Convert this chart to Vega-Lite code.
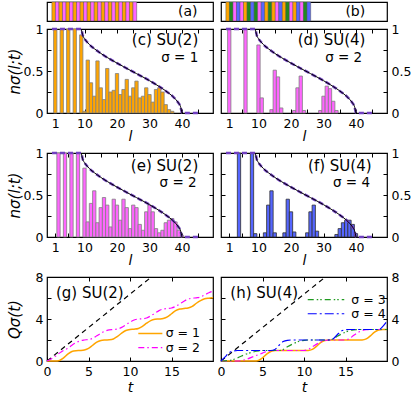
{
"$schema": "https://vega.github.io/schema/vega-lite/v6.json",
"padding": {"left": 6, "top": 1, "right": 0, "bottom": 0},
"config": {
  "font": "DejaVu Sans",
  "view": {"stroke": "black", "strokeWidth": 1.2},
  "axis": {"grid": false, "domain": false, "tickColor": "black", "tickSize": -4, "tickWidth": 1, "labelFontSize": 12.5, "labelColor": "black", "labelPadding": 8, "labelFlush": false, "labelOverlap": false, "titleFontSize": 15, "titleColor": "black", "titleFontWeight": "normal", "titleFontStyle": "italic", "titlePadding": 1},
  "axisBottom": {"minExtent": 15, "maxExtent": 15, "titlePadding": 1, "titleFontSize": 14},
  "axisTop": {"minExtent": 0, "maxExtent": 0},
  "axisLeft": {"minExtent": 24, "maxExtent": 24},
  "text": {"font": "DejaVu Sans", "fontSize": 15, "color": "black"},
  "line": {"interpolate": "monotone"}
},
"datasets": {
  "env": [{"l":9,"v":1},{"l":9.5,"v":0.92},{"l":10,"v":0.885},{"l":11,"v":0.836},{"l":12,"v":0.797},{"l":13,"v":0.766},{"l":14,"v":0.737},{"l":15,"v":0.71},{"l":16,"v":0.685},{"l":17,"v":0.661},{"l":18,"v":0.638},{"l":20,"v":0.594},{"l":22,"v":0.552},{"l":24,"v":0.51},{"l":26,"v":0.469},{"l":28,"v":0.428},{"l":30,"v":0.385},{"l":32,"v":0.339},{"l":33,"v":0.315},{"l":34,"v":0.29},{"l":35,"v":0.263},{"l":36,"v":0.234},{"l":37,"v":0.203},{"l":38,"v":0.164},{"l":39,"v":0.115},{"l":39.5,"v":0.081},{"l":40,"v":0}],
  "envp": [{"l":0,"v":1},{"l":9,"v":1},{"l":9.5,"v":0.92},{"l":10,"v":0.885},{"l":11,"v":0.836},{"l":12,"v":0.797},{"l":13,"v":0.766},{"l":14,"v":0.737},{"l":15,"v":0.71},{"l":16,"v":0.685},{"l":17,"v":0.661},{"l":18,"v":0.638},{"l":20,"v":0.594},{"l":22,"v":0.552},{"l":24,"v":0.51},{"l":26,"v":0.469},{"l":28,"v":0.428},{"l":30,"v":0.385},{"l":32,"v":0.339},{"l":33,"v":0.315},{"l":34,"v":0.29},{"l":35,"v":0.263},{"l":36,"v":0.234},{"l":37,"v":0.203},{"l":38,"v":0.164},{"l":39,"v":0.115},{"l":39.5,"v":0.081},{"l":40,"v":0},{"l":45,"v":0}],
  "c": [{"l":1,"v":1},{"l":3,"v":1},{"l":5,"v":1},{"l":7,"v":1},{"l":9,"v":0.93},{"l":10,"v":0.02},{"l":11,"v":0.63},{"l":12,"v":0.36},{"l":13,"v":0.2},{"l":14,"v":0.62},{"l":15,"v":0.3},{"l":16,"v":0.16},{"l":17,"v":0.53},{"l":18,"v":0.25},{"l":19,"v":0.27},{"l":20,"v":0.47},{"l":21,"v":0.22},{"l":22,"v":0.28},{"l":23,"v":0.4},{"l":24,"v":0.2},{"l":25,"v":0.3},{"l":26,"v":0.38},{"l":27,"v":0.18},{"l":28,"v":0.2},{"l":29,"v":0.3},{"l":30,"v":0.22},{"l":31,"v":0.13},{"l":32,"v":0.28},{"l":33,"v":0.3},{"l":34,"v":0.25},{"l":35,"v":0.1},{"l":36,"v":0.04},{"l":37,"v":0.02}],
  "d": [{"l":1,"v":1},{"l":6,"v":1},{"l":10,"v":0.81},{"l":11,"v":0.18},{"l":14,"v":0.04},{"l":15,"v":0.51},{"l":16,"v":0.43},{"l":17,"v":0.06},{"l":21,"v":0.03},{"l":22,"v":0.3},{"l":23,"v":0.44},{"l":24,"v":0.03},{"l":29,"v":0.03},{"l":30,"v":0.2},{"l":31,"v":0.32},{"l":32,"v":0.29},{"l":33,"v":0.14},{"l":34,"v":0.03}],
  "e": [{"l":2,"v":1},{"l":4,"v":1},{"l":6,"v":1},{"l":8,"v":1},{"l":10,"v":0.82},{"l":11,"v":0.18},{"l":12,"v":0.4},{"l":13,"v":0.55},{"l":14,"v":0.17},{"l":15,"v":0.35},{"l":16,"v":0.47},{"l":17,"v":0.38},{"l":18,"v":0.12},{"l":19,"v":0.45},{"l":20,"v":0.38},{"l":21,"v":0.2},{"l":22,"v":0.45},{"l":23,"v":0.35},{"l":24,"v":0.1},{"l":25,"v":0.38},{"l":26,"v":0.35},{"l":27,"v":0.15},{"l":28,"v":0.08},{"l":29,"v":0.3},{"l":30,"v":0.38},{"l":31,"v":0.3},{"l":32,"v":0.1},{"l":33,"v":0.05},{"l":34,"v":0.08},{"l":35,"v":0.17},{"l":36,"v":0.2},{"l":37,"v":0.22},{"l":38,"v":0.18},{"l":39,"v":0.08},{"l":40,"v":0.02}],
  "f": [{"l":4,"v":1},{"l":8,"v":1},{"l":9,"v":0.04},{"l":12,"v":0.05},{"l":13,"v":0.38},{"l":14,"v":0.55},{"l":15,"v":0.05},{"l":18,"v":0.05},{"l":19,"v":0.45},{"l":20,"v":0.3},{"l":21,"v":0.06},{"l":25,"v":0.05},{"l":26,"v":0.3},{"l":27,"v":0.38},{"l":28,"v":0.07},{"l":34,"v":0.03},{"l":35,"v":0.1},{"l":36,"v":0.17},{"l":37,"v":0.2},{"l":38,"v":0.2},{"l":39,"v":0.15},{"l":40,"v":0.04}],
  "sa": [{"l":1,"s":1},{"l":2,"s":2},{"l":3,"s":1},{"l":4,"s":2},{"l":5,"s":1},{"l":6,"s":2},{"l":7,"s":1},{"l":8,"s":2},{"l":9,"s":1},{"l":10,"s":2},{"l":11,"s":1},{"l":12,"s":2},{"l":13,"s":1},{"l":14,"s":2},{"l":15,"s":1},{"l":16,"s":2},{"l":17,"s":1},{"l":18,"s":2},{"l":19,"s":1},{"l":20,"s":2},{"l":21,"s":1},{"l":22,"s":2},{"l":23,"s":1},{"l":24,"s":2}],
  "sb": [{"l":1,"s":1},{"l":2,"s":3},{"l":3,"s":2},{"l":4,"s":4},{"l":5,"s":2},{"l":6,"s":1},{"l":7,"s":3},{"l":8,"s":4},{"l":9,"s":3},{"l":10,"s":2},{"l":11,"s":4},{"l":12,"s":1},{"l":13,"s":3},{"l":14,"s":1},{"l":15,"s":2},{"l":16,"s":4},{"l":17,"s":1},{"l":18,"s":3},{"l":19,"s":2},{"l":20,"s":1},{"l":21,"s":4},{"l":22,"s":2},{"l":23,"s":3},{"l":24,"s":4}],
  "lin": [{"t":0,"q":0},{"t":12.57,"q":8}],
  "g1": [{"t":0,"q":0},{"t":1,"q":0},{"t":1.5,"q":0.05},{"t":2,"q":0.3},{"t":2.5,"q":0.65},{"t":3,"q":0.9},{"t":3.5,"q":0.98},{"t":4,"q":1.0},{"t":4.5,"q":1.05},{"t":5,"q":1.2},{"t":5.5,"q":1.5},{"t":6,"q":1.8},{"t":6.5,"q":1.95},{"t":7,"q":2.0},{"t":7.5,"q":2.02},{"t":8,"q":2.1},{"t":8.5,"q":2.35},{"t":9,"q":2.65},{"t":9.5,"q":2.9},{"t":10,"q":3.0},{"t":10.5,"q":3.03},{"t":11,"q":3.1},{"t":11.5,"q":3.3},{"t":12,"q":3.6},{"t":12.5,"q":3.85},{"t":13,"q":3.97},{"t":13.5,"q":4.0},{"t":14,"q":4.05},{"t":14.5,"q":4.2},{"t":15,"q":4.5},{"t":15.5,"q":4.8},{"t":16,"q":4.95},{"t":16.5,"q":5.0},{"t":17,"q":5.05},{"t":17.5,"q":5.2},{"t":18,"q":5.5},{"t":18.5,"q":5.75},{"t":19,"q":5.92},{"t":19.5,"q":5.98},{"t":20,"q":6.02}],
  "g2": [{"t":0,"q":0},{"t":0.5,"q":0.2},{"t":1,"q":0.45},{"t":1.5,"q":0.75},{"t":2,"q":1.0},{"t":2.5,"q":1.2},{"t":3,"q":1.5},{"t":3.5,"q":1.75},{"t":4,"q":1.92},{"t":4.5,"q":2.0},{"t":5,"q":2.05},{"t":5.5,"q":2.15},{"t":6,"q":2.4},{"t":6.5,"q":2.65},{"t":7,"q":2.85},{"t":7.5,"q":2.97},{"t":8,"q":3.0},{"t":8.5,"q":3.05},{"t":9,"q":3.2},{"t":9.5,"q":3.45},{"t":10,"q":3.7},{"t":10.5,"q":3.9},{"t":11,"q":4.0},{"t":11.5,"q":4.02},{"t":12,"q":4.1},{"t":12.5,"q":4.3},{"t":13,"q":4.55},{"t":13.5,"q":4.8},{"t":14,"q":4.95},{"t":14.5,"q":5.0},{"t":15,"q":5.05},{"t":15.5,"q":5.2},{"t":16,"q":5.45},{"t":16.5,"q":5.7},{"t":17,"q":5.9},{"t":17.5,"q":5.98},{"t":18,"q":6.02},{"t":18.5,"q":6.1},{"t":19,"q":6.3},{"t":19.5,"q":6.5},{"t":20,"q":6.65}],
  "h1": [{"t":0,"q":0},{"t":4,"q":0},{"t":4.5,"q":0.05},{"t":5,"q":0.3},{"t":5.5,"q":0.65},{"t":6,"q":0.9},{"t":6.5,"q":1.0},{"t":10.5,"q":1.0},{"t":11,"q":1.1},{"t":11.5,"q":1.4},{"t":12,"q":1.75},{"t":12.5,"q":1.95},{"t":13,"q":2.0},{"t":17,"q":2.0},{"t":17.5,"q":2.1},{"t":18,"q":2.4},{"t":18.5,"q":2.75},{"t":19,"q":2.95},{"t":19.5,"q":3.0},{"t":20,"q":3.0}],
  "h2": [{"t":0,"q":0},{"t":2,"q":0},{"t":3,"q":0.15},{"t":4,"q":0.45},{"t":5,"q":0.75},{"t":5.5,"q":0.9},{"t":6,"q":0.97},{"t":6.5,"q":1.0},{"t":10,"q":1.0},{"t":10.5,"q":1.1},{"t":11,"q":1.35},{"t":12,"q":1.8},{"t":12.5,"q":1.95},{"t":13,"q":2.0},{"t":15,"q":2.0},{"t":15.5,"q":2.15},{"t":16,"q":2.45},{"t":17,"q":2.9},{"t":17.5,"q":2.98},{"t":18,"q":3.0},{"t":20,"q":3.0}],
  "h3": [{"t":0,"q":0},{"t":1,"q":0.05},{"t":2,"q":0.3},{"t":3,"q":0.65},{"t":4,"q":0.88},{"t":4.5,"q":0.95},{"t":5,"q":1.0},{"t":7,"q":1.0},{"t":7.5,"q":1.1},{"t":8,"q":1.35},{"t":9,"q":1.75},{"t":9.5,"q":1.9},{"t":10,"q":1.97},{"t":10.5,"q":2.0},{"t":13,"q":2.0},{"t":13.5,"q":2.1},{"t":14,"q":2.35},{"t":15,"q":2.75},{"t":15.5,"q":2.9},{"t":16,"q":2.97},{"t":17,"q":3.0},{"t":20,"q":3.0}],
  "h4": [{"t":0,"q":0},{"t":0.5,"q":0.4},{"t":1,"q":0.8},{"t":1.5,"q":0.95},{"t":2,"q":1.0},{"t":6,"q":1.0},{"t":6.5,"q":1.1},{"t":7,"q":1.5},{"t":7.5,"q":1.85},{"t":8,"q":1.97},{"t":8.5,"q":2.0},{"t":13,"q":2.0},{"t":13.5,"q":2.1},{"t":14,"q":2.5},{"t":14.5,"q":2.85},{"t":15,"q":2.97},{"t":15.5,"q":3.0},{"t":19,"q":3.0},{"t":19.5,"q":3.3},{"t":20,"q":3.8}]
},
"spacing": 2,
"vconcat": [
 {"spacing": 0, "vconcat": [
  {"bounds": "flush", "spacing": 8, "hconcat": [
   {"width": 166, "height": 19, "layer": [
    {"data": {"name": "sa"}, "mark": {"type": "bar", "orient": "vertical", "width": 3.75, "stroke": "#555555", "strokeWidth": 0.5},
     "encoding": {"x": {"field": "l", "type": "quantitative", "scale": {"domain": [0.5, 44.77], "nice": false, "zero": false}, "axis": null},
      "y": {"datum": 1, "type": "quantitative", "scale": {"domain": [0, 1], "nice": false}, "axis": {"orient": "left", "labels": false, "ticks": false, "title": " "}},
      "color": {"field": "s", "type": "nominal", "scale": {"domain": [1, 2, 3, 4], "range": ["#ffa500", "#ff66ff", "#1f8a1f", "#5566ff"]}, "legend": null}}},
    {"data": {"values": [{}]}, "mark": {"type": "text", "align": "right", "baseline": "middle", "fontSize": 14},
     "encoding": {"x": {"datum": 41.8, "type": "quantitative"}, "y": {"datum": 0.5, "type": "quantitative"}, "text": {"value": "(a)"}}}
   ]},
   {"width": 166, "height": 19, "layer": [
    {"data": {"name": "sb"}, "mark": {"type": "bar", "orient": "vertical", "width": 3.75, "stroke": "#555555", "strokeWidth": 0.5},
     "encoding": {"x": {"field": "l", "type": "quantitative", "scale": {"domain": [0.5, 44.77], "nice": false, "zero": false}, "axis": null},
      "y": {"datum": 1, "type": "quantitative", "scale": {"domain": [0, 1], "nice": false}, "axis": null},
      "color": {"field": "s", "type": "nominal", "scale": {"domain": [1, 2, 3, 4], "range": ["#ffa500", "#ff66ff", "#1f8a1f", "#5566ff"]}, "legend": null}}},
    {"data": {"values": [{}]}, "mark": {"type": "text", "align": "right", "baseline": "middle", "fontSize": 14},
     "encoding": {"x": {"datum": 40, "type": "quantitative"}, "y": {"datum": 0.5, "type": "quantitative"}, "text": {"value": "(b)"}}}
   ]}
  ]},
  {"bounds": "flush", "spacing": 8, "hconcat": [
   {"width": 166, "height": 84, "resolve": {"axis": {"x": "independent", "y": "independent"}}, "layer": [
    {"data": {"name": "c"}, "mark": {"type": "bar", "orient": "vertical", "width": 3.3, "fill": "#ffa500", "stroke": "#808080", "strokeWidth": 0.8},
     "encoding": {"x": {"field": "l", "type": "quantitative", "scale": {"domain": [0, 48], "nice": false, "zero": false}, "axis": {"orient": "bottom", "values": [1,5,10,15,20,25,30,35,40,45], "labelExpr": "indexof([1,10,20,30,40], datum.value) >= 0 ? datum.label : ''", "title": "l"}},
      "y": {"field": "v", "type": "quantitative", "scale": {"domain": [0, 1], "nice": false}, "axis": {"orient": "left", "values": [0,0.25,0.5,0.75,1], "format": "~g", "labelExpr": "(datum.value == 0.25 || datum.value == 0.75) ? '' : datum.label", "title": "nσ(l;t)"}}}},
    {"data": {"name": "envp"}, "mark": {"type": "line", "stroke": "#7040c0", "strokeWidth": 2.5, "strokeDash": [5, 3]},
     "encoding": {"x": {"field": "l", "type": "quantitative", "axis": {"orient": "top", "labels": false, "title": null, "values": [5,10,15,20,25,30,35,40,45]}},
      "y": {"field": "v", "type": "quantitative", "axis": {"orient": "right", "labels": false, "title": null, "minExtent": 0, "maxExtent": 0, "values": [0.25,0.5,0.75]}}}},
    {"data": {"name": "env"}, "mark": {"type": "line", "stroke": "black", "strokeWidth": 1},
     "encoding": {"x": {"field": "l", "type": "quantitative", "axis": null}, "y": {"field": "v", "type": "quantitative", "axis": null}}},
    {"data": {"values": [{}]}, "mark": {"type": "text", "align": "right", "baseline": "middle"},
     "encoding": {"x": {"datum": 45, "type": "quantitative", "axis": null}, "y": {"datum": 0.87, "type": "quantitative", "axis": null}, "text": {"value": "(c) SU(2)"}}},
    {"data": {"values": [{}]}, "mark": {"type": "text", "align": "right", "baseline": "middle", "fontSize": 13.5},
     "encoding": {"x": {"datum": 45, "type": "quantitative", "axis": null}, "y": {"datum": 0.65, "type": "quantitative", "axis": null}, "text": {"value": "σ = 1"}}}
   ]},
   {"width": 166, "height": 84, "resolve": {"axis": {"x": "independent", "y": "independent"}}, "layer": [
    {"data": {"name": "d"}, "mark": {"type": "bar", "orient": "vertical", "width": 3.3, "fill": "#ff66ff", "stroke": "#808080", "strokeWidth": 0.8},
     "encoding": {"x": {"field": "l", "type": "quantitative", "scale": {"domain": [0, 48], "nice": false, "zero": false}, "axis": {"orient": "bottom", "values": [1,5,10,15,20,25,30,35,40,45], "labelExpr": "indexof([1,10,20,30,40], datum.value) >= 0 ? datum.label : ''", "title": "l"}},
      "y": {"field": "v", "type": "quantitative", "scale": {"domain": [0, 1], "nice": false}, "axis": {"orient": "right", "values": [0,0.25,0.5,0.75,1], "format": "~g", "labelExpr": "(datum.value == 0.25 || datum.value == 0.75) ? '' : datum.label", "title": null}}}},
    {"data": {"name": "envp"}, "mark": {"type": "line", "stroke": "#7040c0", "strokeWidth": 2.5, "strokeDash": [5, 3]},
     "encoding": {"x": {"field": "l", "type": "quantitative", "axis": {"orient": "top", "labels": false, "title": null, "values": [5,10,15,20,25,30,35,40,45]}},
      "y": {"field": "v", "type": "quantitative", "axis": {"orient": "left", "labels": false, "title": null, "minExtent": 0, "maxExtent": 0, "values": [0.25,0.5,0.75]}}}},
    {"data": {"name": "env"}, "mark": {"type": "line", "stroke": "black", "strokeWidth": 1},
     "encoding": {"x": {"field": "l", "type": "quantitative", "axis": null}, "y": {"field": "v", "type": "quantitative", "axis": null}}},
    {"data": {"values": [{}]}, "mark": {"type": "text", "align": "right", "baseline": "middle"},
     "encoding": {"x": {"datum": 42.9, "type": "quantitative", "axis": null}, "y": {"datum": 0.87, "type": "quantitative", "axis": null}, "text": {"value": "(d) SU(4)"}}},
    {"data": {"values": [{}]}, "mark": {"type": "text", "align": "right", "baseline": "middle", "fontSize": 13.5},
     "encoding": {"x": {"datum": 41.9, "type": "quantitative", "axis": null}, "y": {"datum": 0.65, "type": "quantitative", "axis": null}, "text": {"value": "σ = 2"}}}
   ]}
  ]}
 ]},
 {"bounds": "flush", "spacing": 8, "hconcat": [
   {"width": 166, "height": 84, "resolve": {"axis": {"x": "independent", "y": "independent"}}, "layer": [
    {"data": {"name": "e"}, "mark": {"type": "bar", "orient": "vertical", "width": 3.3, "fill": "#ff66ff", "stroke": "#808080", "strokeWidth": 0.8},
     "encoding": {"x": {"field": "l", "type": "quantitative", "scale": {"domain": [0, 48], "nice": false, "zero": false}, "axis": {"orient": "bottom", "values": [1,5,10,15,20,25,30,35,40,45], "labelExpr": "indexof([1,10,20,30,40], datum.value) >= 0 ? datum.label : ''", "title": "l"}},
      "y": {"field": "v", "type": "quantitative", "scale": {"domain": [0, 1], "nice": false}, "axis": {"orient": "left", "values": [0,0.25,0.5,0.75,1], "format": "~g", "labelExpr": "(datum.value == 0.25 || datum.value == 0.75) ? '' : datum.label", "title": "nσ(l;t)"}}}},
    {"data": {"name": "envp"}, "mark": {"type": "line", "stroke": "#7040c0", "strokeWidth": 2.5, "strokeDash": [5, 3]},
     "encoding": {"x": {"field": "l", "type": "quantitative", "axis": {"orient": "top", "labels": false, "title": null, "values": [5,10,15,20,25,30,35,40,45]}},
      "y": {"field": "v", "type": "quantitative", "axis": {"orient": "right", "labels": false, "title": null, "minExtent": 0, "maxExtent": 0, "values": [0.25,0.5,0.75]}}}},
    {"data": {"name": "env"}, "mark": {"type": "line", "stroke": "black", "strokeWidth": 1},
     "encoding": {"x": {"field": "l", "type": "quantitative", "axis": null}, "y": {"field": "v", "type": "quantitative", "axis": null}}},
    {"data": {"values": [{}]}, "mark": {"type": "text", "align": "right", "baseline": "middle"},
     "encoding": {"x": {"datum": 45, "type": "quantitative", "axis": null}, "y": {"datum": 0.84, "type": "quantitative", "axis": null}, "text": {"value": "(e) SU(2)"}}},
    {"data": {"values": [{}]}, "mark": {"type": "text", "align": "right", "baseline": "middle", "fontSize": 13.5},
     "encoding": {"x": {"datum": 44.5, "type": "quantitative", "axis": null}, "y": {"datum": 0.64, "type": "quantitative", "axis": null}, "text": {"value": "σ = 2"}}}
   ]},
   {"width": 166, "height": 84, "resolve": {"axis": {"x": "independent", "y": "independent"}}, "layer": [
    {"data": {"name": "f"}, "mark": {"type": "bar", "orient": "vertical", "width": 3.3, "fill": "#5566ff", "stroke": "#303030", "strokeWidth": 0.8},
     "encoding": {"x": {"field": "l", "type": "quantitative", "scale": {"domain": [0, 48], "nice": false, "zero": false}, "axis": {"orient": "bottom", "values": [1,5,10,15,20,25,30,35,40,45], "labelExpr": "indexof([1,10,20,30,40], datum.value) >= 0 ? datum.label : ''", "title": "l"}},
      "y": {"field": "v", "type": "quantitative", "scale": {"domain": [0, 1], "nice": false}, "axis": {"orient": "right", "values": [0,0.25,0.5,0.75,1], "format": "~g", "labelExpr": "(datum.value == 0.25 || datum.value == 0.75) ? '' : datum.label", "title": null}}}},
    {"data": {"name": "envp"}, "mark": {"type": "line", "stroke": "#7040c0", "strokeWidth": 2.5, "strokeDash": [5, 3]},
     "encoding": {"x": {"field": "l", "type": "quantitative", "axis": {"orient": "top", "labels": false, "title": null, "values": [5,10,15,20,25,30,35,40,45]}},
      "y": {"field": "v", "type": "quantitative", "axis": {"orient": "left", "labels": false, "title": null, "minExtent": 0, "maxExtent": 0, "values": [0.25,0.5,0.75]}}}},
    {"data": {"name": "env"}, "mark": {"type": "line", "stroke": "black", "strokeWidth": 1},
     "encoding": {"x": {"field": "l", "type": "quantitative", "axis": null}, "y": {"field": "v", "type": "quantitative", "axis": null}}},
    {"data": {"values": [{}]}, "mark": {"type": "text", "align": "right", "baseline": "middle"},
     "encoding": {"x": {"datum": 44.8, "type": "quantitative", "axis": null}, "y": {"datum": 0.84, "type": "quantitative", "axis": null}, "text": {"value": "(f)  SU(4)"}}},
    {"data": {"values": [{}]}, "mark": {"type": "text", "align": "right", "baseline": "middle", "fontSize": 13.5},
     "encoding": {"x": {"datum": 44.3, "type": "quantitative", "axis": null}, "y": {"datum": 0.64, "type": "quantitative", "axis": null}, "text": {"value": "σ = 4"}}}
   ]}
 ]},
 {"bounds": "flush", "spacing": 8, "hconcat": [
   {"width": 166, "height": 84, "resolve": {"axis": {"x": "independent", "y": "independent"}}, "layer": [
    {"data": {"name": "lin"}, "mark": {"type": "line", "stroke": "black", "strokeWidth": 1.2, "strokeDash": [5, 4]},
     "encoding": {"x": {"field": "t", "type": "quantitative", "scale": {"domain": [0, 20], "nice": false, "zero": false}, "axis": {"orient": "bottom", "values": [0,5,10,15], "title": "t", "titlePadding": 4}},
      "y": {"field": "q", "type": "quantitative", "scale": {"domain": [0, 8], "nice": false}, "axis": {"orient": "left", "values": [0,2,4,6,8], "labelExpr": "(datum.value == 2 || datum.value == 6) ? '' : datum.label", "title": "Qσ(t)"}}}},
    {"data": {"name": "g1"}, "mark": {"type": "line", "stroke": "#ffa500", "strokeWidth": 1.5},
     "encoding": {"x": {"field": "t", "type": "quantitative", "axis": {"orient": "top", "labels": false, "title": null, "values": [5,10,15]}},
      "y": {"field": "q", "type": "quantitative", "axis": {"orient": "right", "labels": false, "title": null, "minExtent": 0, "maxExtent": 0, "values": [2,4,6]}}}},
    {"data": {"name": "g2"}, "mark": {"type": "line", "stroke": "#ff00ff", "strokeWidth": 1.2, "strokeDash": [6, 3, 1.5, 3]},
     "encoding": {"x": {"field": "t", "type": "quantitative", "axis": null}, "y": {"field": "q", "type": "quantitative", "axis": null}}},
    {"data": {"values": [{}]}, "mark": {"type": "text", "align": "left", "baseline": "middle"},
     "encoding": {"x": {"datum": 1.08, "type": "quantitative", "axis": null}, "y": {"datum": 6.5, "type": "quantitative", "axis": null}, "text": {"value": "(g) SU(2)"}}},
    {"data": {"values": [{}]}, "mark": {"type": "rule", "stroke": "#ffa500", "strokeWidth": 1.5},
     "encoding": {"x": {"datum": 11.0, "type": "quantitative", "axis": null}, "x2": {"datum": 13.9}, "y": {"datum": 2.62, "type": "quantitative", "axis": null}}},
    {"data": {"values": [{}]}, "mark": {"type": "text", "align": "left", "baseline": "middle", "fontSize": 12.5},
     "encoding": {"x": {"datum": 14.3, "type": "quantitative", "axis": null}, "y": {"datum": 2.62, "type": "quantitative", "axis": null}, "text": {"value": "σ = 1"}}},
    {"data": {"values": [{}]}, "mark": {"type": "rule", "stroke": "#ff00ff", "strokeWidth": 1.2, "strokeDash": [6, 3, 1.5, 3]},
     "encoding": {"x": {"datum": 11.0, "type": "quantitative", "axis": null}, "x2": {"datum": 13.9}, "y": {"datum": 1.28, "type": "quantitative", "axis": null}}},
    {"data": {"values": [{}]}, "mark": {"type": "text", "align": "left", "baseline": "middle", "fontSize": 12.5},
     "encoding": {"x": {"datum": 14.3, "type": "quantitative", "axis": null}, "y": {"datum": 1.28, "type": "quantitative", "axis": null}, "text": {"value": "σ = 2"}}}
   ]},
   {"width": 166, "height": 84, "resolve": {"axis": {"x": "independent", "y": "independent"}}, "layer": [
    {"data": {"name": "lin"}, "mark": {"type": "line", "stroke": "black", "strokeWidth": 1.2, "strokeDash": [5, 4]},
     "encoding": {"x": {"field": "t", "type": "quantitative", "scale": {"domain": [0, 20], "nice": false, "zero": false}, "axis": {"orient": "bottom", "values": [0,5,10,15], "title": "t", "titlePadding": 4}},
      "y": {"field": "q", "type": "quantitative", "scale": {"domain": [0, 8], "nice": false}, "axis": {"orient": "right", "values": [0,2,4,6,8], "labelExpr": "(datum.value == 2 || datum.value == 6) ? '' : datum.label", "title": null}}}},
    {"data": {"name": "h1"}, "mark": {"type": "line", "stroke": "#ffa500", "strokeWidth": 1.5},
     "encoding": {"x": {"field": "t", "type": "quantitative", "axis": {"orient": "top", "labels": false, "title": null, "values": [5,10,15]}},
      "y": {"field": "q", "type": "quantitative", "axis": {"orient": "left", "labels": false, "title": null, "minExtent": 0, "maxExtent": 0, "values": [2,4,6]}}}},
    {"data": {"name": "h2"}, "mark": {"type": "line", "stroke": "#ff00ff", "strokeWidth": 1.2, "strokeDash": [6, 3, 1.5, 3]},
     "encoding": {"x": {"field": "t", "type": "quantitative", "axis": null}, "y": {"field": "q", "type": "quantitative", "axis": null}}},
    {"data": {"name": "h3"}, "mark": {"type": "line", "stroke": "#1f9a1f", "strokeWidth": 1.2, "strokeDash": [6, 3, 1.5, 2, 1.5, 3]},
     "encoding": {"x": {"field": "t", "type": "quantitative", "axis": null}, "y": {"field": "q", "type": "quantitative", "axis": null}}},
    {"data": {"name": "h4"}, "mark": {"type": "line", "stroke": "#0000ff", "strokeWidth": 1.2, "strokeDash": [9, 3, 2, 3]},
     "encoding": {"x": {"field": "t", "type": "quantitative", "axis": null}, "y": {"field": "q", "type": "quantitative", "axis": null}}},
    {"data": {"values": [{}]}, "mark": {"type": "text", "align": "left", "baseline": "middle"},
     "encoding": {"x": {"datum": 1.12, "type": "quantitative", "axis": null}, "y": {"datum": 6.5, "type": "quantitative", "axis": null}, "text": {"value": "(h) SU(4)"}}},
    {"data": {"values": [{}]}, "mark": {"type": "rule", "stroke": "#1f9a1f", "strokeWidth": 1.2, "strokeDash": [6, 3, 1.5, 2, 1.5, 3]},
     "encoding": {"x": {"datum": 10.45, "type": "quantitative", "axis": null}, "x2": {"datum": 14.85}, "y": {"datum": 5.85, "type": "quantitative", "axis": null}}},
    {"data": {"values": [{}]}, "mark": {"type": "text", "align": "left", "baseline": "middle", "fontSize": 12.5},
     "encoding": {"x": {"datum": 15.7, "type": "quantitative", "axis": null}, "y": {"datum": 5.85, "type": "quantitative", "axis": null}, "text": {"value": "σ = 3"}}},
    {"data": {"values": [{}]}, "mark": {"type": "rule", "stroke": "#0000ff", "strokeWidth": 1.2, "strokeDash": [9, 3, 2, 3]},
     "encoding": {"x": {"datum": 10.45, "type": "quantitative", "axis": null}, "x2": {"datum": 14.85}, "y": {"datum": 4.5, "type": "quantitative", "axis": null}}},
    {"data": {"values": [{}]}, "mark": {"type": "text", "align": "left", "baseline": "middle", "fontSize": 12.5},
     "encoding": {"x": {"datum": 15.7, "type": "quantitative", "axis": null}, "y": {"datum": 4.5, "type": "quantitative", "axis": null}, "text": {"value": "σ = 4"}}}
   ]}
 ]}
]
}
